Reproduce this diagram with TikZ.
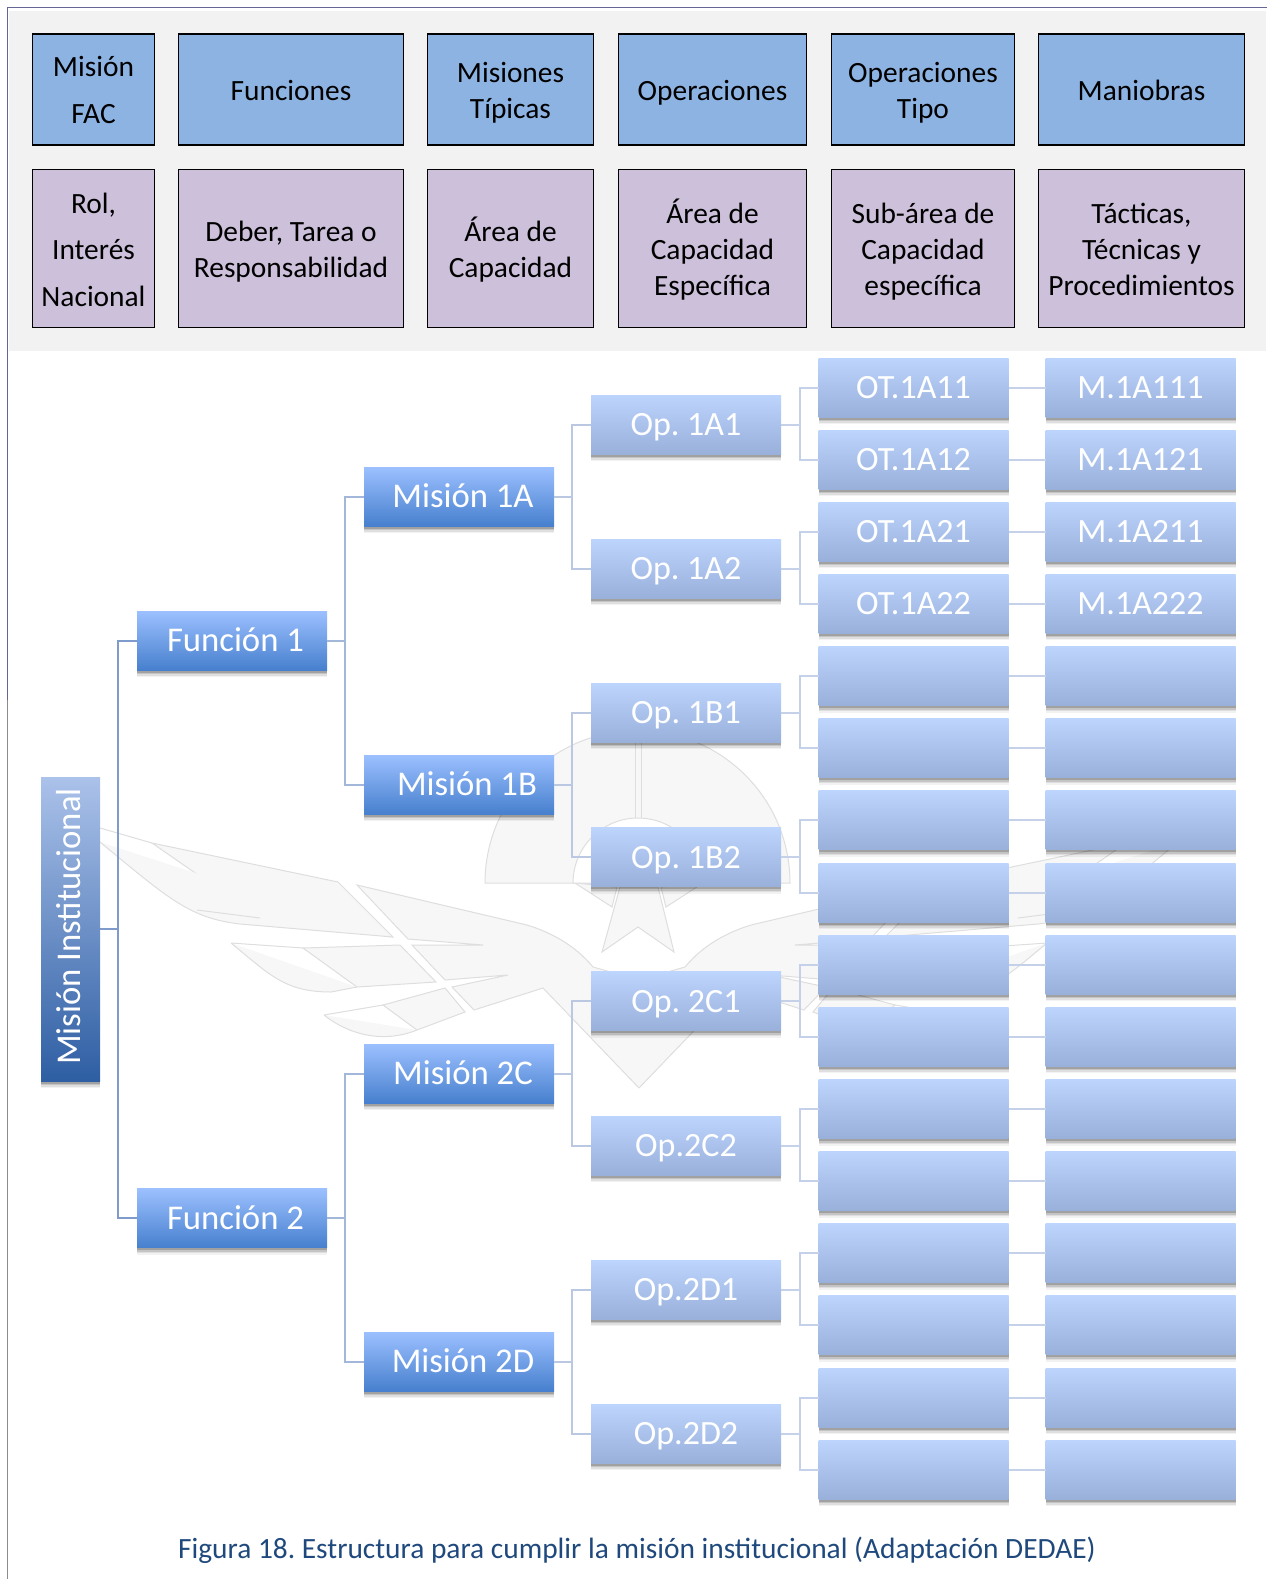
\documentclass[tikz,border=0pt]{standalone}
\usepackage{fontspec}
\setmainfont{Carlito}
\usetikzlibrary{positioning}
\usetikzlibrary{shadows}
\AtBeginDocument{\frenchspacing}

\definecolor{panelgray}{HTML}{F2F2F2}
\definecolor{headblue}{HTML}{8DB3E2}
\definecolor{headlilac}{HTML}{CCC0DA}
\definecolor{capblue}{HTML}{1F497D}
\definecolor{Bstrongtop}{HTML}{9CC0FF}
\definecolor{Bstrongbot}{HTML}{4780CE}
\definecolor{Blighttop}{HTML}{BDD5FD}
\definecolor{Blightbot}{HTML}{98B0DA}
\definecolor{Broottop}{HTML}{ABC2EA}
\definecolor{Brootbot}{HTML}{2E5EA3}
\definecolor{Broot}{HTML}{7F9BCB}
\definecolor{Bfun}{HTML}{A3B7DA}
\definecolor{Bmis}{HTML}{BAC8E2}
\definecolor{Bop}{HTML}{C5D1E8}

% half of the emblem behind the tree, drawn twice
\newcommand{\halfemblem}{
    \filldraw[wmark] (152,843) -- (338,882) -- (393,937) -- (260,918) -- cycle;
    \draw[wmark] (100,828) -- (152,843) (100,842) .. controls (170,900) and (190,918) .. (240,924) -- (393,937);
    \draw[wmark] (197,910) -- (260,918);
    \filldraw[wmark] (303,948) -- (400,945) -- (436,982) -- (357,987) -- cycle;
    \draw[wmark] (231,943) -- (303,948) (231,943) .. controls (270,975) and (285,992) .. (331,992) -- (357,987);
    \filldraw[wmark] (383,1005) -- (445,988) -- (465,1012) -- (417,1030) -- cycle;
    \draw[wmark] (324,1015) -- (383,1005) (324,1015) .. controls (345,1032) and (380,1045) .. (417,1030);
    \filldraw[wmark] (639,1088) -- (543,988) -- (474,1010) -- (452,987) -- (508,975) -- (445,980)
        -- (412,945) -- (483,945) -- (408,939) -- (357,885) -- (527,925)
        .. controls (550,932) and (575,945) .. (593,967) -- (639,980);
    \filldraw[wmark] (575,883) -- (612,907) -- (617,887) -- cycle;
}

\begin{document}
\begin{tikzpicture}[
    x=1pt,
    y=-1pt,
    wmark/.style={draw=black!13, fill=black!3, line width=1pt},
    headbox/.style={
        draw=black,
        line width=1.2pt,
        fill=headblue,
        minimum height=111pt,
        align=center,
        outer sep=0pt,
        inner sep=0pt,
        font=\fontsize{29.4}{36}\selectfont
    },
    rowbox/.style={
        headbox,
        fill=headlilac,
        minimum height=157.5pt
    },
    softshadow/.style={
        drop shadow={shadow xshift=0pt, shadow yshift=-7pt, opacity=.05, fill=black},
        drop shadow={shadow xshift=0pt, shadow yshift=-5.5pt, opacity=.08, fill=black},
        drop shadow={shadow xshift=0pt, shadow yshift=-4pt, opacity=.12, fill=black},
        drop shadow={shadow xshift=0pt, shadow yshift=-2.5pt, opacity=.18, fill=black}
    },
    treebox/.style={
        softshadow,
        minimum width=190pt,
        minimum height=59pt,
        outer sep=0pt,
        inner sep=0pt,
        text=white,
        font=\fontsize{34.7}{40}\selectfont
    },
    capbox/.style={treebox, text height=22pt, text depth=0pt},
    strongbox/.style={capbox, top color=Bstrongtop, bottom color=Bstrongbot},
    lightbox/.style={capbox, top color=Blighttop, bottom color=Blightbot, font=\fontsize{34}{40}\selectfont},
    rootbox/.style={treebox, minimum width=59pt, minimum height=304pt, top color=Broottop, bottom color=Brootbot},
    linkroot/.style={draw=Broot, line width=2pt},
    linkfun/.style={draw=Bfun, line width=2pt},
    linkmis/.style={draw=Bmis, line width=2pt},
    linkop/.style={draw=Bop, line width=2pt}
]

\useasboundingbox (0,0) rectangle (1267,1579);

% Frame and panel
\draw[draw=black!45, line width=1pt] (7.5,1579) -- (7.5,700);
\draw[draw=blue!30!black!60!white, line width=1pt] (7.5,700) -- (7.5,7.5) -- (1267,7.5);
\fill[panelgray] (9,11) rectangle (1266,351);

% Emblem
\halfemblem
\begin{scope}[xshift=1278pt, xscale=-1]
    \halfemblem
\end{scope}
\filldraw[wmark] (485,883) arc[start angle=180, end angle=360, radius=152.5] -- cycle;
\filldraw[draw=black!13, fill=white, line width=1pt] (573,883) arc[start angle=180, end angle=360, radius=65] -- cycle;
\draw[wmark] (635,731) -- (635,818) (641,731) -- (641,818);
\filldraw[wmark] (620,887) -- (602,952) -- (638,927) -- (674,952) -- (658,887) -- cycle;

% Header nodes
\node[headbox, minimum width=121.5pt, font=\fontsize{29.4}{46.5}\selectfont] (hmision) at (93.5,89.5) {\rule{0pt}{27pt}Misión\\FAC\rule[-6.5pt]{0pt}{6.5pt}};
\node[headbox, minimum width=224.5pt, right=24.5pt of hmision] (hfunc) {\rule{0pt}{29pt}Funciones\rule[-6.5pt]{0pt}{6.5pt}};
\node[headbox, minimum width=165.5pt, right=24.5pt of hfunc] (hmis) {\rule{0pt}{29pt}Misiones\\Típicas\rule[-6.5pt]{0pt}{6.5pt}};
\node[headbox, minimum width=187.5pt, right=25.5pt of hmis] (hop) {\rule{0pt}{29pt}Operaciones\rule[-6.5pt]{0pt}{6.5pt}};
\node[headbox, minimum width=182.5pt, right=25.5pt of hop] (hot) {\rule{0pt}{29pt}Operaciones\\Tipo\rule[-6.5pt]{0pt}{6.5pt}};
\node[headbox, minimum width=205.5pt, right=24.5pt of hot] (hman) {\rule{0pt}{29pt}Maniobras\rule[-6.5pt]{0pt}{6.5pt}};

\node[rowbox, minimum width=121.5pt, font=\fontsize{29.4}{46.5}\selectfont] (rrol) at (93.5,248.5) {\rule{0pt}{29pt}Rol,\\Interés\\Nacional\rule[-6.5pt]{0pt}{6.5pt}};
\node[rowbox, minimum width=224.5pt, right=24.5pt of rrol] (rdeber) {\rule{0pt}{29pt}Deber, Tarea o\\Responsabilidad\rule[-6.5pt]{0pt}{6.5pt}};
\node[rowbox, minimum width=165.5pt, right=24.5pt of rdeber] (rarea) {\rule{0pt}{29pt}Área de\\Capacidad\rule[-6.5pt]{0pt}{6.5pt}};
\node[rowbox, minimum width=187.5pt, right=25.5pt of rarea] (resp) {\rule{0pt}{29pt}Área de\\Capacidad\\Específica\rule[-6.5pt]{0pt}{6.5pt}};
\node[rowbox, minimum width=182.5pt, right=25.5pt of resp] (rsub) {\rule{0pt}{29pt}Sub-área de\\Capacidad\\específica\rule[-6.5pt]{0pt}{6.5pt}};
\node[rowbox, minimum width=205.5pt, right=24.5pt of rsub] (rtac) {\rule{0pt}{29pt}Tácticas,\\Técnicas y\\Procedimientos\rule[-6.5pt]{0pt}{6.5pt}};

% Tree nodes
\node[rootbox] (root) at (70.5,929) {\hspace*{-4pt}\raisebox{5pt}{\rotatebox{90}{Misión Institucional}}};
\node[strongbox] (fun1) at (232,640.5) {\hspace*{7pt}Función 1};
\node[strongbox] (fun2) at (232,1218) {\hspace*{7pt}Función 2};
\node[strongbox] (mis1) at (459,496.5) {\hspace*{8pt}Misión 1A};
\node[strongbox] (mis2) at (459,784.5) {\hspace*{16pt}Misión 1B};
\node[strongbox] (mis3) at (459,1073.5) {\hspace*{8pt}Misión 2C};
\node[strongbox] (mis4) at (459,1361.5) {\hspace*{8pt}Misión 2D};

\foreach \i/\optext in {1/Op. 1A1, 2/Op. 1A2, 3/Op. 1B1, 4/Op. 1B2, 5/Op. 2C1, 6/Op.2C2, 7/Op.2D1, 8/Op.2D2}
    \node[lightbox] (op\i) at (686,{424.5+144.2*(\i-1)}) {\optext};

\foreach \i/\ottext/\mantext in {1/OT.1A11/M.1A111, 2/OT.1A12/M.1A121, 3/OT.1A21/M.1A211, 4/OT.1A22/M.1A222,
    5//, 6//, 7//, 8//, 9//, 10//, 11//, 12//, 13//, 14//, 15//, 16//} {
    \node[lightbox] (ot\i) at (913.5,{387.5+72.15*(\i-1)}) {\ottext};
    \node[lightbox, right=37pt of ot\i] (man\i) {\mantext};
}

% Connectors
\foreach \a/\b in {root/fun1, root/fun2}
    \draw[linkroot] (\a.east) -- ++(18,0) |- (\b.west);
\foreach \a/\b in {fun1/mis1, fun1/mis2, fun2/mis3, fun2/mis4}
    \draw[linkfun] (\a.east) -- ++(18,0) |- (\b.west);
\foreach \a/\b in {mis1/op1, mis1/op2, mis2/op3, mis2/op4, mis3/op5, mis3/op6, mis4/op7, mis4/op8}
    \draw[linkmis] (\a.east) -- ++(18,0) |- (\b.west);
\foreach \a/\b in {op1/ot1, op1/ot2, op2/ot3, op2/ot4, op3/ot5, op3/ot6, op4/ot7, op4/ot8,
    op5/ot9, op5/ot10, op6/ot11, op6/ot12, op7/ot13, op7/ot14, op8/ot15, op8/ot16}
    \draw[linkop] (\a.east) -- ++(18.5,0) |- (\b.west);
\foreach \i in {1,...,16}
    \draw[linkop] (ot\i) -- (man\i);

% Caption
\node[text=capblue, font=\fontsize{29.4}{34}\selectfont] (caption) at (637,1550.5) {Figura 18. Estructura para cumplir la misión institucional (Adaptación DEDAE)};

\end{tikzpicture}
\end{document}
